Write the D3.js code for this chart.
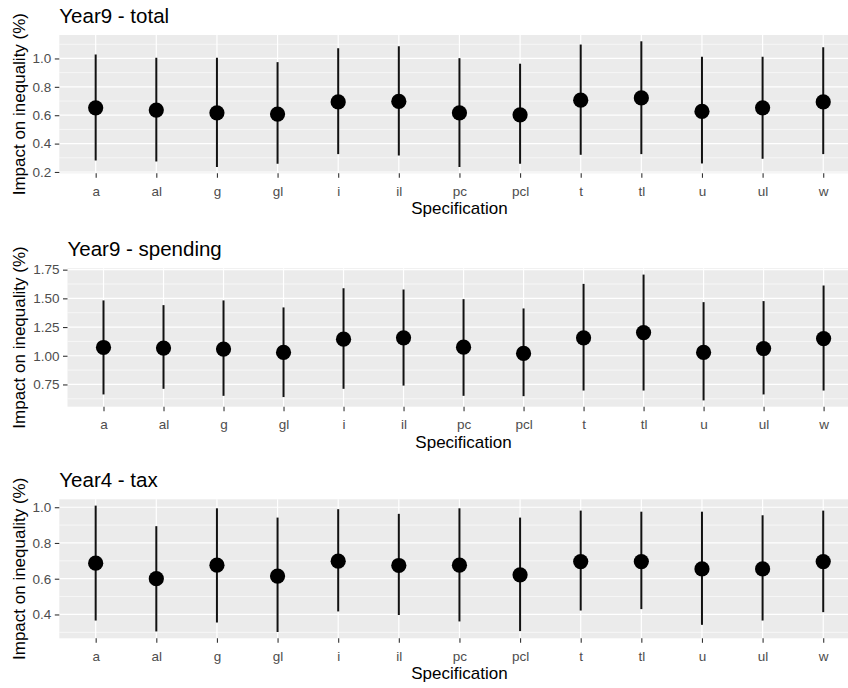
<!DOCTYPE html>
<html>
<head>
<meta charset="utf-8">
<script src="https://cdn.jsdelivr.net/npm/d3@7"></script>
<style>
  body { margin: 0; background: #fff; }
  svg text { font-family: "Liberation Sans", Arial, sans-serif; }
</style>
</head>
<body>
<svg id="chart" width="848" height="688"></svg>
<script>
// specifications on the x axis
var specs = ["a", "al", "g", "gl", "i", "il", "pc", "pcl", "t", "tl", "u", "ul", "w"]

// Year9 - total
var total_est = [0.652, 0.636, 0.617, 0.608, 0.694, 0.697, 0.617, 0.603, 0.706, 0.722, 0.627, 0.652, 0.694]
var total_lo  = [0.281, 0.274, 0.235, 0.258, 0.326, 0.316, 0.235, 0.258, 0.321, 0.326, 0.260, 0.293, 0.326]
var total_hi  = [1.028, 1.005, 1.005, 0.974, 1.072, 1.086, 1.002, 0.963, 1.098, 1.121, 1.012, 1.012, 1.079]
var total_ticks = [0.2, 0.4, 0.6, 0.8, 1.0]

// Year9 - spending
var spend_est = [1.072, 1.067, 1.058, 1.029, 1.144, 1.156, 1.075, 1.020, 1.156, 1.202, 1.029, 1.063, 1.150]
var spend_lo  = [0.663, 0.712, 0.651, 0.640, 0.712, 0.740, 0.651, 0.648, 0.697, 0.697, 0.611, 0.663, 0.697]
var spend_hi  = [1.482, 1.441, 1.482, 1.421, 1.588, 1.577, 1.493, 1.412, 1.626, 1.707, 1.467, 1.476, 1.612]
var spend_ticks = [0.75, 1.00, 1.25, 1.50, 1.75]

// Year4 - tax
var tax_est = [0.687, 0.600, 0.676, 0.615, 0.698, 0.674, 0.676, 0.622, 0.696, 0.696, 0.655, 0.655, 0.696]
var tax_lo  = [0.366, 0.305, 0.355, 0.302, 0.417, 0.397, 0.361, 0.307, 0.422, 0.430, 0.342, 0.366, 0.413]
var tax_hi  = [1.009, 0.894, 0.994, 0.942, 0.989, 0.963, 0.994, 0.942, 0.981, 0.975, 0.975, 0.955, 0.981]
var tax_ticks = [0.4, 0.6, 0.8, 1.0]

var titles = ["Year9 - total", "Year9 - spending", "Year4 - tax"]
var y_label = "Impact on inequality (%)"
var x_label = "Specification"

// layout of each panel (pixels)
var panels = [
    {est: total_est, lo: total_lo, hi: total_hi, ticks: total_ticks, fmt: ".1f", left: 59.3, top: 35, bottom: 173.3},
    {est: spend_est, lo: spend_lo, hi: spend_hi, ticks: spend_ticks, fmt: ".2f", left: 67.5, top: 268.3, bottom: 406.7},
    {est: tax_est, lo: tax_lo, hi: tax_hi, ticks: tax_ticks, fmt: ".1f", left: 59.3, top: 499.3, bottom: 638.3}
]
var right_edge = 859.6

var svg = d3.select("#chart")

panels.forEach(function(p, k){
    var g = svg.append("g")

    // ggplot style 5% expansion of the data range
    var mn = d3.min(p.lo), mx = d3.max(p.hi)
    var pad = (mx - mn) * 0.05
    var y = d3.scaleLinear().domain([mn - pad, mx + pad]).range([p.bottom, p.top])
    var x = d3.scalePoint().domain(specs).range([p.left, right_edge]).padding(0.6)

    g.append("rect")
        .attr("x", p.left).attr("y", p.top)
        .attr("width", right_edge - p.left).attr("height", p.bottom - p.top)
        .attr("fill", "#EBEBEB")

    // minor grid lines halfway between the major ones
    var step = p.ticks[1] - p.ticks[0]
    var minor = []
    for(var i = -1; i < p.ticks.length; i++){
        var v = p.ticks[0] + step * (i + 0.5)
        if(v > y.domain()[0] && v < y.domain()[1]) minor.push(v)
    }
    g.selectAll(".minor").data(minor).enter().append("line")
        .attr("x1", p.left).attr("x2", right_edge)
        .attr("y1", function(d){ return y(d) }).attr("y2", function(d){ return y(d) })
        .attr("stroke", "#fff").attr("stroke-width", 0.6)

    g.selectAll(".major").data(p.ticks).enter().append("line")
        .attr("x1", p.left).attr("x2", right_edge)
        .attr("y1", function(d){ return y(d) }).attr("y2", function(d){ return y(d) })
        .attr("stroke", "#fff").attr("stroke-width", 1.2)

    g.selectAll(".vgrid").data(specs).enter().append("line")
        .attr("x1", function(d){ return x(d) }).attr("x2", function(d){ return x(d) })
        .attr("y1", p.top).attr("y2", p.bottom)
        .attr("stroke", "#fff").attr("stroke-width", 1.2)

    // axes
    var yAxis = d3.axisLeft(y).tickValues(p.ticks).tickFormat(d3.format(p.fmt)).tickSize(4.5).tickPadding(3.5)
    var ya = g.append("g").attr("transform", "translate(" + p.left + ",0)").call(yAxis)
    var xAxis = d3.axisBottom(x).tickSize(4.5).tickPadding(4)
    var xa = g.append("g").attr("transform", "translate(0," + p.bottom + ")").call(xAxis)
    ;[ya, xa].forEach(function(a){
        a.select(".domain").remove()
        a.selectAll(".tick line").attr("stroke", "#333333").attr("stroke-width", 1.1)
        a.selectAll(".tick text").attr("fill", "#4D4D4D").attr("font-size", 13.5)
            .attr("font-family", "Liberation Sans, Arial, sans-serif")
    })
    xa.selectAll(".tick text").attr("dy", null).attr("y", 22.5)

    // error bars and points
    var rows = specs.map(function(s, i){ return {spec: s, est: p.est[i], lo: p.lo[i], hi: p.hi[i]} })
    g.selectAll(".bar").data(rows).enter().append("line")
        .attr("x1", function(d){ return x(d.spec) }).attr("x2", function(d){ return x(d.spec) })
        .attr("y1", function(d){ return y(d.lo) }).attr("y2", function(d){ return y(d.hi) })
        .attr("stroke", "#111").attr("stroke-width", 2)
    g.selectAll(".pt").data(rows).enter().append("circle")
        .attr("cx", function(d){ return x(d.spec) })
        .attr("cy", function(d){ return y(d.est) })
        .attr("r", 7.6)
        .attr("fill", "#000")

    // titles
    g.append("text")
        .attr("x", p.left).attr("y", p.top - 12.3)
        .attr("font-size", 20.5).attr("fill", "#000")
        .text(titles[k])
    g.append("text")
        .attr("transform", "translate(25," + ((p.top + p.bottom) / 2) + ") rotate(-90)")
        .attr("text-anchor", "middle")
        .attr("font-size", 17).attr("fill", "#000")
        .text(y_label)
    g.append("text")
        .attr("x", (p.left + right_edge) / 2).attr("y", p.bottom + 41)
        .attr("text-anchor", "middle")
        .attr("font-size", 17).attr("fill", "#000")
        .text(x_label)
})
</script>
</body>
</html>
